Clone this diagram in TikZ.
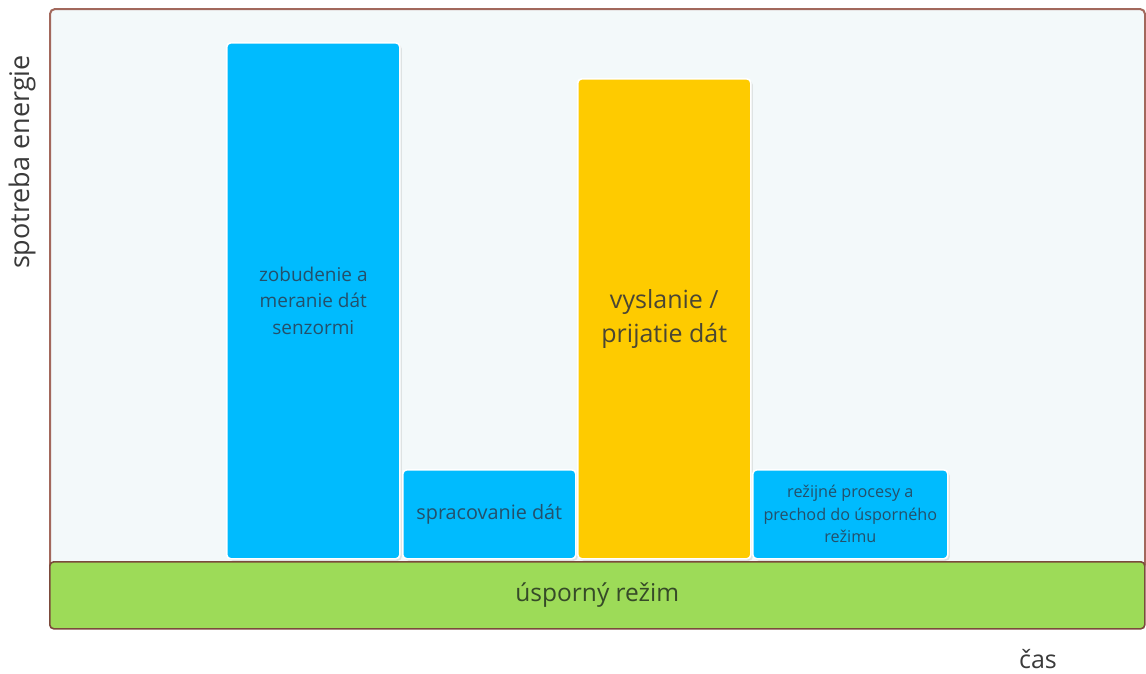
\documentclass[tikz,border=0pt]{standalone}
\usepackage{fontspec}
\setmainfont{Open Sans}
\usetikzlibrary{shadows}
\definecolor{framebrown}{HTML}{A2685C}
\definecolor{darkbrown}{HTML}{7C4A3C}
\definecolor{panel}{HTML}{F3F9FA}
\definecolor{skyblue}{HTML}{00BBFE}
\definecolor{sun}{HTML}{FECB00}
\definecolor{leaf}{HTML}{9DDB58}
\definecolor{bluetext}{HTML}{24506B}
\definecolor{suntext}{HTML}{4A4634}
\definecolor{leaftext}{HTML}{364A28}
\definecolor{axistext}{HTML}{3A3A3A}
\tikzset{
  phase/.style={draw=white, line width=1.6pt, rounded corners=4pt, anchor=north west,
    inner sep=0pt, align=center,
    drop shadow={opacity=0.18, shadow xshift=2pt, shadow yshift=-2pt}},
  bluephase/.style={phase, fill=skyblue, text=bluetext},
  sunphase/.style={phase, fill=sun, text=suntext},
  axislabel/.style={text=axistext, inner sep=0pt}
}
\begin{document}
\begin{tikzpicture}[x=1pt,y=-1pt]
\useasboundingbox (0,0) rectangle (1146,673);
% outer chart panel
\node[draw=framebrown, line width=2pt, fill=panel, rounded corners=5pt, anchor=north west,
  minimum width=1095pt, minimum height=560pt, inner sep=0pt] (panel) at (49,8) {};
% baseline: sleep mode
\node[draw=darkbrown, line width=1.6pt, fill=leaf, rounded corners=4pt, anchor=north west,
  minimum width=1095pt, minimum height=67pt, inner sep=0pt,
  text=leaftext, font=\fontsize{24.5}{28}\selectfont] (sleep) at (49,561) {úsporný režim};
% activity phases
\node[bluephase, minimum width=173pt, minimum height=516pt,
  font=\fontsize{19}{26.5}\selectfont] (wake) at (226,42)
  {zobudenie a\\meranie dát\\senzormi};
\node[bluephase, minimum width=173pt, minimum height=89pt,
  font=\fontsize{19.8}{22}\selectfont] (proc) at (402,469) {spracovanie dát};
\node[sunphase, minimum width=173pt, minimum height=480pt,
  font=\fontsize{25}{34}\selectfont] (radio) at (577,78) {vyslanie /\\prijatie dát};
\node[bluephase, minimum width=195pt, minimum height=89pt,
  font=\fontsize{16.2}{22.5}\selectfont] (over) at (752,469)
  {režijné procesy a\\prechod do úsporného\\režimu};
% axis labels
\node[axislabel, rotate=90, font=\fontsize{27}{30}\selectfont] (yaxis) at (22,162) {spotreba energie};
\node[axislabel, font=\fontsize{25}{28}\selectfont] (xaxis) at (1038,659) {čas};
\end{tikzpicture}
\end{document}
